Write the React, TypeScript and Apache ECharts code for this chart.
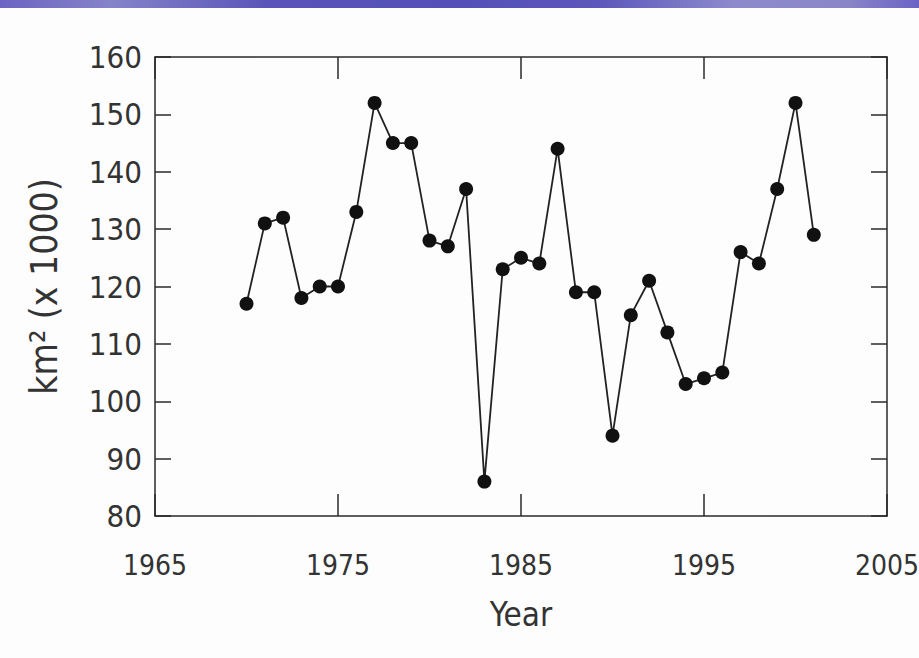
import React, { useEffect, useRef } from "react";
import * as echarts from "echarts";

const years = [1970, 1971, 1972, 1973, 1974, 1975, 1976, 1977, 1978, 1979, 1980, 1981, 1982, 1983, 1984, 1985, 1986, 1987, 1988, 1989, 1990, 1991, 1992, 1993, 1994, 1995, 1996, 1997, 1998, 1999, 2000, 2001];
const areaValues = [117, 131, 132, 118, 120, 120, 133, 152, 145, 145, 128, 127, 137, 86, 123, 125, 124, 144, 119, 119, 94, 115, 121, 112, 103, 104, 105, 126, 124, 137, 152, 129];
const xTitle = "Year";
const yTitle = "km² (x 1000)";

const FONT = "'DejaVu Sans Condensed', 'Liberation Sans Narrow', 'Liberation Sans', sans-serif";
const INK = "#2a2a2a";

export default function App() {
  const ref = useRef<HTMLDivElement>(null);
  useEffect(() => {
    if (!ref.current) return;
    const chart = echarts.init(ref.current, null, { renderer: "svg" });
    const axisLine = { show: true, lineStyle: { color: INK, width: 1.5 } };
    chart.setOption({
      animation: false,
      backgroundColor: "#fdfdfd",
      graphic: [
        {
          type: "rect",
          left: 0,
          top: 0,
          shape: { x: 0, y: 0, width: 919, height: 8 },
          style: {
            fill: new echarts.graphic.LinearGradient(0, 0, 1, 0, [
              { offset: 0, color: "#6b64c2" },
              { offset: 0.12, color: "#8583c9" },
              { offset: 0.3, color: "#5753b8" },
              { offset: 0.5, color: "#5350b7" },
              { offset: 0.65, color: "#5b57bb" },
              { offset: 0.8, color: "#8d8bcd" },
              { offset: 0.92, color: "#8a86c6" },
              { offset: 1, color: "#6a63c6" },
            ]),
          },
          silent: true,
        },
      ],
      grid: { left: 155, right: 32, top: 57, bottom: 142, containLabel: false, outerBoundsMode: "none" },
      xAxis: [
        {
          type: "value",
          min: 1965,
          max: 2005,
          interval: 10,
          position: "bottom",
          name: xTitle,
          nameLocation: "middle",
          nameGap: 82,
          nameTextStyle: { color: "#333", fontFamily: FONT, fontSize: 33 },
          axisLine,
          axisTick: { show: true, inside: true, length: 22, lineStyle: { color: INK, width: 1.5 } },
          axisLabel: { color: "#333", fontFamily: FONT, fontSize: 28, margin: 35, formatter: (v: number) => String(v) },
          splitLine: { show: false },
        },
        {
          type: "value",
          min: 1965,
          max: 2005,
          interval: 10,
          position: "top",
          axisLine,
          axisTick: { show: true, inside: true, length: 22, lineStyle: { color: INK, width: 1.5 } },
          axisLabel: { show: false },
          splitLine: { show: false },
        },
      ],
      yAxis: [
        {
          type: "value",
          min: 80,
          max: 160,
          interval: 10,
          position: "left",
          name: yTitle,
          nameLocation: "middle",
          nameGap: 92,
          nameRotate: 90,
          nameTextStyle: { color: "#333", fontFamily: FONT, fontSize: 37 },
          axisLine,
          axisTick: { show: true, inside: true, length: 16, lineStyle: { color: INK, width: 1.5 } },
          axisLabel: { color: "#333", fontFamily: FONT, fontSize: 31, margin: 13 },
          splitLine: { show: false },
        },
        {
          type: "value",
          min: 80,
          max: 160,
          interval: 10,
          position: "right",
          axisLine,
          axisTick: { show: true, inside: true, length: 16, lineStyle: { color: INK, width: 1.5 } },
          axisLabel: { show: false },
          splitLine: { show: false },
        },
      ],
      series: [
        {
          type: "line",
          xAxisIndex: 0,
          yAxisIndex: 0,
          data: years.map((y, i) => [y, areaValues[i]]),
          symbol: "circle",
          symbolSize: 14,
          itemStyle: { color: "#111" },
          lineStyle: { color: "#222", width: 1.8 },
        },
      ],
    });
    return () => chart.dispose();
  }, []);
  return (
    <div
      ref={ref}
      style={{ position: "absolute", left: 0, top: 0, width: 919, height: 658 }}
    />
  );
}
